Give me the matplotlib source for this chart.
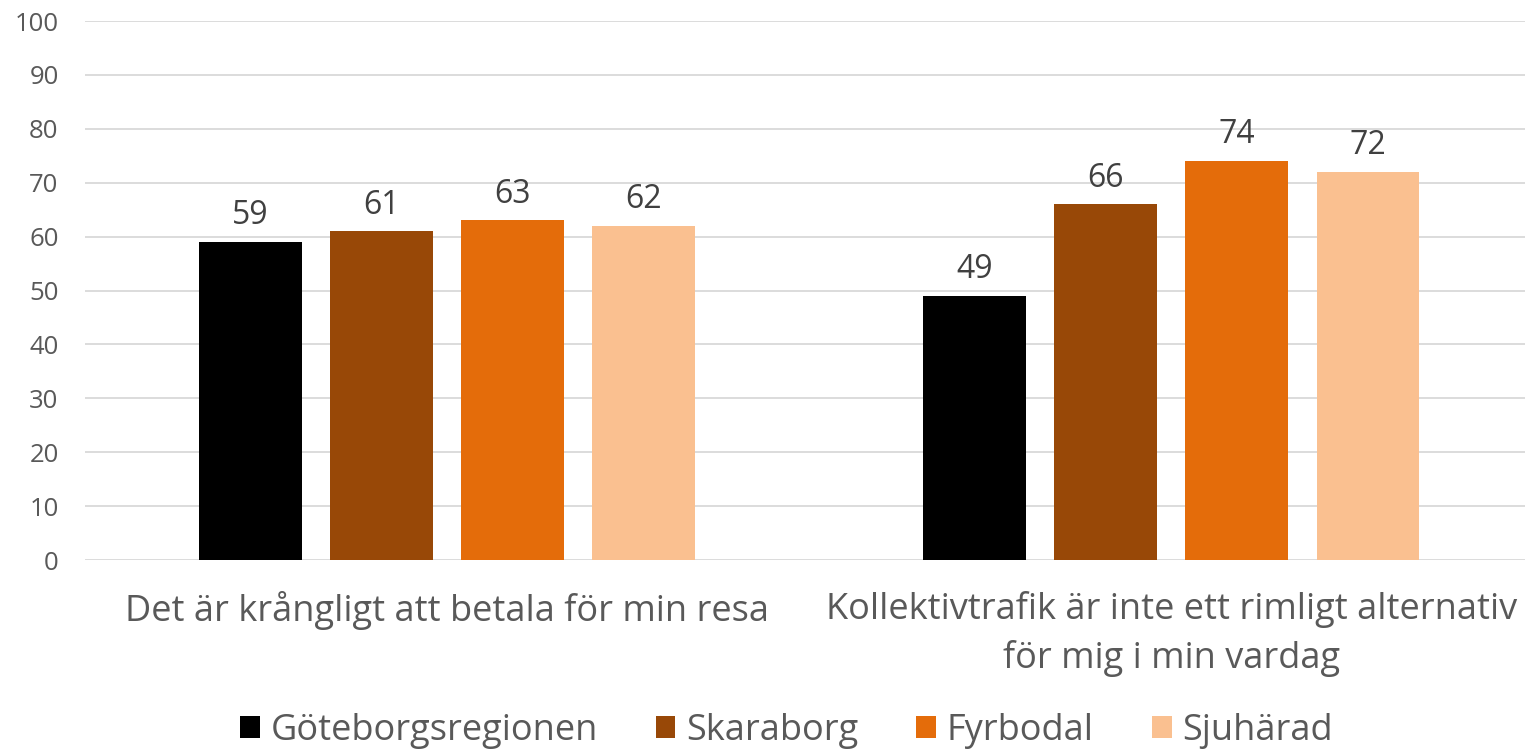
import numpy as np
import matplotlib
matplotlib.use('Agg')
import matplotlib.pyplot as plt

plt.rcParams['font.family'] = ['Open Sans', 'DejaVu Sans']

kategorier = ['Det är krångligt att betala för min resa',
              'Kollektivtrafik är inte ett rimligt alternativ\nför mig i min vardag']
regioner = ['Göteborgsregionen', 'Skaraborg', 'Fyrbodal', 'Sjuhärad']
varden = [[59, 49],
          [61, 66],
          [63, 74],
          [62, 72]]
farger = ['#000000', '#984807', '#E46C0A', '#FAC090']

textfarg = '#595959'

fig = plt.figure(figsize=(15.27, 7.51), dpi=100)
ax = fig.add_axes([0.0557, 0.2543, 0.9433, 0.7177])

x = np.arange(len(kategorier))
bredd = 0.142
steg = 0.181
for i in range(len(regioner)):
    pos = x + (i - 1.5) * steg
    staplar = ax.bar(pos, varden[i], bredd, color=farger[i], label=regioner[i], zorder=3)
    for s, v in zip(staplar, varden[i]):
        ax.text(s.get_x() + s.get_width() / 2, v + 1.8, str(v), ha='center', va='bottom',
                fontsize=23, color='#404040')

ax.set_xlim(-0.5, 1.489)
ax.set_ylim(0, 100)
ax.set_yticks(range(0, 101, 10))
ax.yaxis.grid(True, color='#D9D9D9', linewidth=1.3, zorder=0)
ax.set_axisbelow(True)
for sp in ax.spines.values():
    sp.set_visible(False)
ax.tick_params(axis='y', length=0, labelsize=18.5, labelcolor=textfarg, pad=19)
ax.tick_params(axis='x', length=0, labelsize=26, labelcolor=textfarg, pad=22)
ax.set_xticks(x)
ax.set_xticklabels(kategorier, linespacing=1.45)

leg = fig.legend(loc='lower center', ncol=4, frameon=False, bbox_to_anchor=(0.515, -0.04),
                 fontsize=26, handlelength=0.55, handleheight=0.55, handletextpad=0.3,
                 columnspacing=1.6)
for t in leg.get_texts():
    t.set_color(textfarg)

fig.savefig('out.png', dpi=100)
